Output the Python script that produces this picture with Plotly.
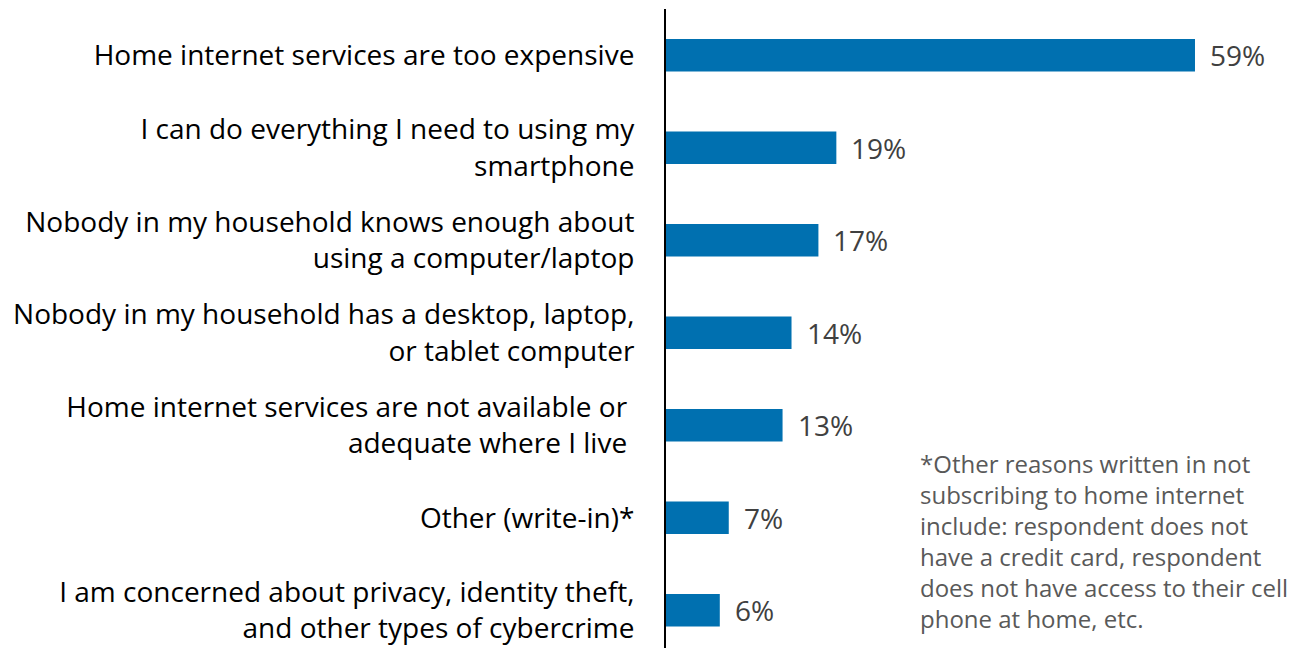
import plotly.graph_objects as go

categories = [
    "Home internet services are too expensive",
    "I can do everything I need to using my<br>smartphone",
    "Nobody in my household knows enough about<br>using a computer/laptop",
    "Nobody in my household has a desktop, laptop,<br>or tablet computer",
    "Home internet services are not available or <br>adequate where I live ",
    "Other (write-in)*",
    "I am concerned about privacy, identity theft,<br>and other types of cybercrime",
]
values = [59, 19, 17, 14, 13, 7, 6]
value_labels = ["59%", "19%", "17%", "14%", "13%", "7%", "6%"]
footnote_lines = [
    "*Other reasons written in not",
    "subscribing to home internet",
    "include: respondent does not",
    "have a credit card, respondent",
    "does not have access to their cell",
    "phone at home, etc.",
]

FONT = "Open Sans"
idx = list(range(len(categories)))

fig = go.Figure()
fig.add_trace(go.Bar(
    x=values, y=idx, orientation="h",
    marker=dict(color="#0070B0", line=dict(width=0)),
    width=0.35, hoverinfo="skip",
))

for i, (v, t) in enumerate(zip(values, value_labels)):
    fig.add_annotation(x=v, y=i, text=t, showarrow=False, xanchor="left",
                       xshift=13, font=dict(family=FONT, size=28, color="#404040"))

for k, line in enumerate(footnote_lines):
    fig.add_annotation(xref="paper", yref="paper", x=(918 - 666) / 646, y=1 - (463 - 9) / 647,
                       yshift=-31 * k, xanchor="left", yanchor="middle",
                       text=line, showarrow=False, align="left",
                       font=dict(family=FONT, size=24, color="#595959"))

fig.update_layout(
    width=1304, height=648,
    margin=dict(l=658, r=0, t=1, b=0, autoexpand=False),
    paper_bgcolor="white", plot_bgcolor="white",
    showlegend=False,
    xaxis=dict(range=[0, 646 / 8.966], showgrid=False, zeroline=False, showticklabels=False,
               showline=False, fixedrange=True, automargin=False),
    yaxis=dict(range=[6.495, -0.5], tickmode="array", tickvals=idx, ticktext=categories,
               showgrid=False, zeroline=False, showline=True, linecolor="black", linewidth=2,
               ticks="", ticklabelstandoff=24, automargin=False,
               tickfont=dict(family=FONT, size=28, color="black")),
)

fig.write_html("out.html")
